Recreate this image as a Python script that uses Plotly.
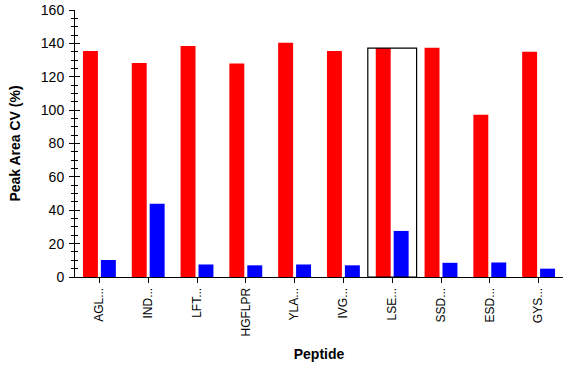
import plotly.graph_objects as go

peptides = ["AGL...", "IND...", "LFT...", "HGFLPR", "YLA...", "IVG...", "LSE...", "SSD...", "ESD...", "GYS..."]
red_values = [135.5, 128.3, 138.5, 128.0, 140.3, 135.5, 137.2, 137.4, 97.2, 135.0]
blue_values = [10.2, 43.9, 7.5, 7.0, 7.5, 7.0, 27.6, 8.5, 8.7, 5.0]
selected_index = 6

fig = go.Figure()
fig.add_trace(go.Bar(x=list(range(len(peptides))), y=red_values, marker=dict(color="#ff0000", line=dict(width=0)), showlegend=False))
fig.add_trace(go.Bar(x=list(range(len(peptides))), y=blue_values, marker=dict(color="#0000ff", line=dict(width=0)), showlegend=False))

# selection rectangle
fig.add_shape(type="rect", xref="x", yref="y",
              x0=selected_index - 0.5, x1=selected_index + 0.5,
              y0=0, y1=red_values[selected_index],
              line=dict(color="black", width=1.2), fillcolor="rgba(0,0,0,0)")

font = "Arial, Liberation Sans, sans-serif"
fig.update_layout(
    width=581, height=374,
    margin=dict(l=75, r=18, t=10, b=97, autoexpand=False),
    paper_bgcolor="white", plot_bgcolor="white",
    barmode="group", bargap=0.265, bargroupgap=1/6,
    font=dict(family=font, size=12, color="black"),
    xaxis=dict(
        range=[-0.5, 9.5], tickmode="array", automargin=False,
        tickvals=list(range(len(peptides))), ticktext=peptides,
        tickangle=-90, ticks="outside", ticklen=5, tickcolor="black", tickwidth=1,
        showline=True, linecolor="black", linewidth=1, showgrid=False, zeroline=False,
        tickfont=dict(family=font, size=12, color="black"),
        title=dict(text="<b>Peptide</b>", font=dict(family=font, size=14), standoff=13),
    ),
    yaxis=dict(
        range=[0, 160], tickmode="linear", tick0=0, dtick=20, automargin=False,
        ticks="outside", ticklen=5, tickcolor="black", tickwidth=1, ticklabelstandoff=2,
        minor=dict(dtick=5, ticks="outside", ticklen=3, tickcolor="black", tickwidth=1, showgrid=False),
        showline=True, linecolor="black", linewidth=1, showgrid=False, zeroline=False,
        tickfont=dict(family=font, size=14, color="black"),
        title=dict(text="<b>Peak Area CV (%)</b>", font=dict(family=font, size=14), standoff=16),
    ),
    yaxis2=dict(
        range=[0, 160], overlaying="y", side="left", tickmode="linear", tick0=0, dtick=20, automargin=False,
        ticks="inside", ticklen=5, tickcolor="black", tickwidth=1,
        minor=dict(dtick=5, ticks="inside", ticklen=3, tickcolor="black", tickwidth=1, showgrid=False),
        showticklabels=False, showline=False, showgrid=False, zeroline=False,
    ),
)
# invisible trace to activate yaxis2
fig.add_trace(go.Scatter(x=[0], y=[0], yaxis="y2", mode="markers", marker=dict(opacity=0), showlegend=False, hoverinfo="skip"))

fig.write_html("out.html", config={"displayModeBar": False},
               post_script="document.body.style.margin='0';document.body.style.padding='0';")
